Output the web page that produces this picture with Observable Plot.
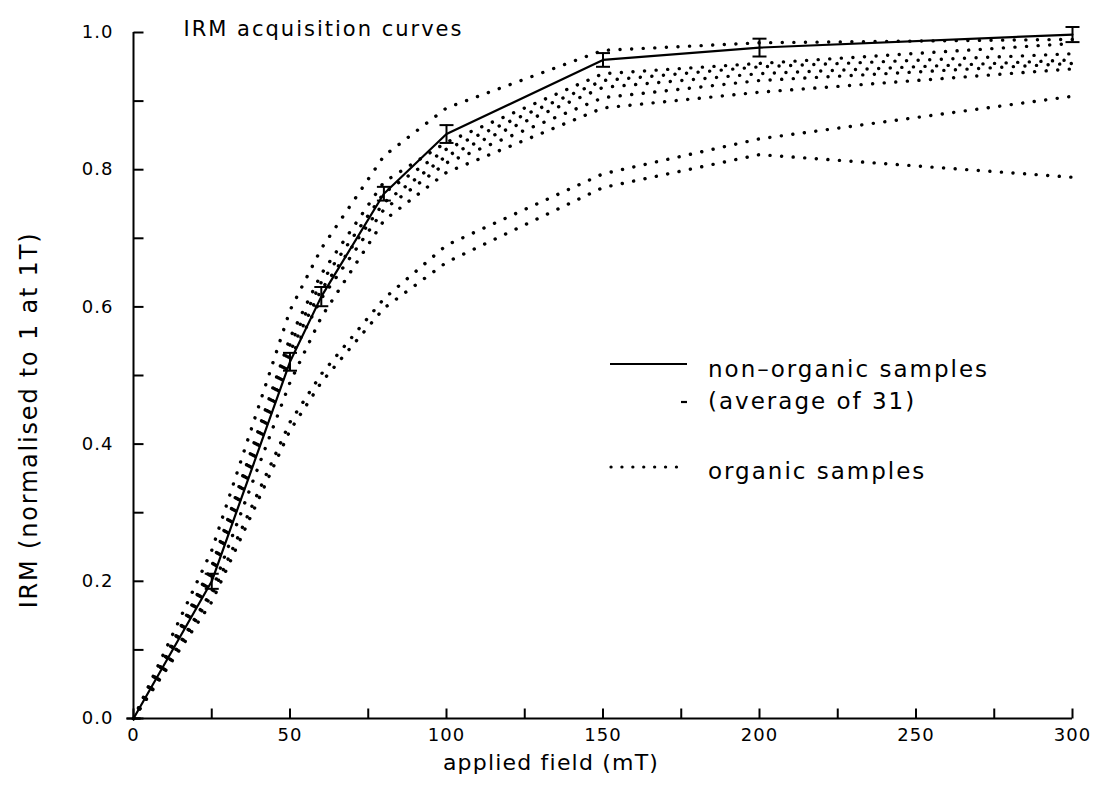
<!DOCTYPE html>
<html><head><meta charset="utf-8">
<script src="https://cdn.jsdelivr.net/npm/d3@7"></script>
<script src="https://cdn.jsdelivr.net/npm/@observablehq/plot@0.6"></script>
<style>
html,body{margin:0;padding:0;background:#fff;}
</style></head><body><div id="chart"></div>
<script>
// ---- data ----
const fields = [0, 25, 50, 60, 80, 100, 150, 200, 300];            // applied field, mT
const nonOrganicMean = [0, 0.20, 0.52, 0.615, 0.765, 0.852, 0.960, 0.978, 0.997];
const nonOrganicErr  = [0, 0.011, 0.013, 0.014, 0.010, 0.013, 0.010, 0.013, 0.011];
const organicA = [0, 0.245, 0.595, 0.685, 0.820, 0.890, 0.974, 0.985, 0.990];
const organicB = [0, 0.222, 0.555, 0.648, 0.782, 0.840, 0.940, 0.955, 0.984];
const organicC = [0, 0.216, 0.545, 0.636, 0.766, 0.830, 0.930, 0.950, 0.969];
const organicD = [0, 0.210, 0.535, 0.625, 0.752, 0.820, 0.920, 0.940, 0.960];
const organicE = [0, 0.204, 0.525, 0.612, 0.742, 0.810, 0.905, 0.930, 0.955];
const organicF = [0, 0.186, 0.490, 0.585, 0.726, 0.796, 0.890, 0.913, 0.947];
const organicG = [0, 0.180, 0.432, 0.502, 0.612, 0.690, 0.794, 0.845, 0.907];
const organicH = [0, 0.170, 0.420, 0.490, 0.598, 0.665, 0.774, 0.822, 0.789];
const organicSeries = [organicA, organicB, organicC, organicD, organicE, organicF, organicG, organicH];
const xTicks = [0, 25, 50, 75, 100, 125, 150, 175, 200, 225, 250, 275, 300];
const xTickLabels = [0, 50, 100, 150, 200, 250, 300];
const yTicks = [0, 0.1, 0.2, 0.3, 0.4, 0.5, 0.6, 0.7, 0.8, 0.9, 1.0];
const yTickLabels = [0, 0.2, 0.4, 0.6, 0.8, 1.0];
const titleText = "IRM acquisition curves";
const xLabel = "applied field (mT)";
const yLabel = "IRM (normalised to 1 at 1T)";
const legendSolid1 = "non–organic samples";
const legendSolid2 = "(average of 31)";
const legendDotted = "organic samples";

// ---- derived tables ----
const mainRows = fields.map((f, i) => ({field: f, irm: nonOrganicMean[i], err: nonOrganicErr[i]}));
const organicRows = organicSeries.flatMap((vals, s) => fields.map((f, i) => ({sample: s, field: f, irm: vals[i]})));

// custom symbols (pixel-sized)
const capSymbol = {draw(ctx) { ctx.moveTo(-7, 0); ctx.lineTo(7, 0); }};
const tickUp = {draw(ctx) { ctx.moveTo(0, 0); ctx.lineTo(0, -10); }};
const tickRight = {draw(ctx) { ctx.moveTo(0, 0); ctx.lineTo(10, 0); }};

const font = "DejaVu Sans";
const chart = Plot.plot({
  width: 1097,
  height: 790,
  marginTop: 32,
  marginBottom: 72,
  marginLeft: 133,
  marginRight: 25,
  style: {fontFamily: font, fontSize: "18px", background: "#fff", color: "#000", letterSpacing: "1px"},
  x: {domain: [0, 300], axis: null},
  y: {domain: [0, 1], axis: null},
  marks: [
    // axis lines
    Plot.ruleY([0], {stroke: "#000", strokeWidth: 2}),
    Plot.ruleX([0], {stroke: "#000", strokeWidth: 2}),
    // inward ticks
    Plot.dot(xTicks, {x: d => d, frameAnchor: "bottom", symbol: tickUp, fill: "none", stroke: "#000", strokeWidth: 2}),
    Plot.dot(yTicks, {y: d => d, frameAnchor: "left", symbol: tickRight, fill: "none", stroke: "#000", strokeWidth: 2}),
    // tick labels
    Plot.text(xTickLabels, {x: d => d, frameAnchor: "bottom", dy: 22, text: d => String(d), fontSize: 18}),
    Plot.text(yTickLabels, {y: d => d, frameAnchor: "left", dx: -20, textAnchor: "end", text: d => d.toFixed(1), fontSize: 18}),
    // axis title (x) and chart title
    Plot.text([xLabel], {frameAnchor: "bottom", dx: -52, dy: 51, text: d => d, fontSize: 22}),
    Plot.text([titleText], {frameAnchor: "top-left", dx: 50, dy: -11, textAnchor: "start", text: d => d, fontSize: 21}),
    // organic samples: dotted
    Plot.line(organicRows, {x: "field", y: "irm", z: "sample", stroke: "#000", strokeWidth: 3.4,
      strokeDasharray: "0.1 11.5", strokeLinecap: "round", strokeLinejoin: "round"}),
    // non-organic mean
    Plot.line(mainRows, {x: "field", y: "irm", stroke: "#000", strokeWidth: 2.2}),
    Plot.ruleX(mainRows, {x: "field", y1: d => d.irm - d.err, y2: d => d.irm + d.err, stroke: "#000", strokeWidth: 2}),
    Plot.dot(mainRows, {x: "field", y: d => d.irm - d.err, symbol: capSymbol, fill: "none", stroke: "#000", strokeWidth: 2}),
    Plot.dot(mainRows, {x: "field", y: d => d.irm + d.err, symbol: capSymbol, fill: "none", stroke: "#000", strokeWidth: 2})
  ]
});

const svg = d3.select(chart);
const fl = 133, ft = 32; // frame left/top

// letter-spacing tweaks for titles
svg.selectAll("text").filter(function() { return this.textContent === xLabel; }).attr("letter-spacing", "1.2px");
svg.selectAll("text").filter(function() { return this.textContent === titleText; }).attr("letter-spacing", "2px");

// y axis title
svg.append("text")
  .attr("transform", `translate(29,420) rotate(-90)`)
  .attr("text-anchor", "middle").attr("dy", "0.35em")
  .attr("font-family", font).attr("font-size", 24).attr("letter-spacing", "1.8px")
  .attr("fill", "#000")
  .text(yLabel);

// ---- legend drawn inside the frame ----
const lg = svg.append("g").attr("font-family", font).attr("font-size", 23)
  .attr("letter-spacing", "2px").attr("text-anchor", "start").attr("fill", "#000");
lg.append("line").attr("x1", fl + 477).attr("x2", fl + 554).attr("y1", ft + 332).attr("y2", ft + 332)
  .attr("stroke", "#000").attr("stroke-width", 2.2);
lg.append("line").attr("x1", fl + 548).attr("x2", fl + 554).attr("y1", ft + 370).attr("y2", ft + 370)
  .attr("stroke", "#000").attr("stroke-width", 2.2);
lg.append("line").attr("x1", fl + 478).attr("x2", fl + 554).attr("y1", ft + 435).attr("y2", ft + 435)
  .attr("stroke", "#000").attr("stroke-width", 3.2).attr("stroke-dasharray", "0.1 10.8").attr("stroke-linecap", "round");
lg.append("text").attr("x", fl + 575).attr("y", ft + 338).attr("dy", "0.32em").text(legendSolid1);
lg.append("text").attr("x", fl + 575).attr("y", ft + 370).attr("dy", "0.32em").text(legendSolid2);
lg.append("text").attr("x", fl + 575).attr("y", ft + 440).attr("dy", "0.32em").text(legendDotted);

document.getElementById("chart").appendChild(chart);
</script>
</body></html>
